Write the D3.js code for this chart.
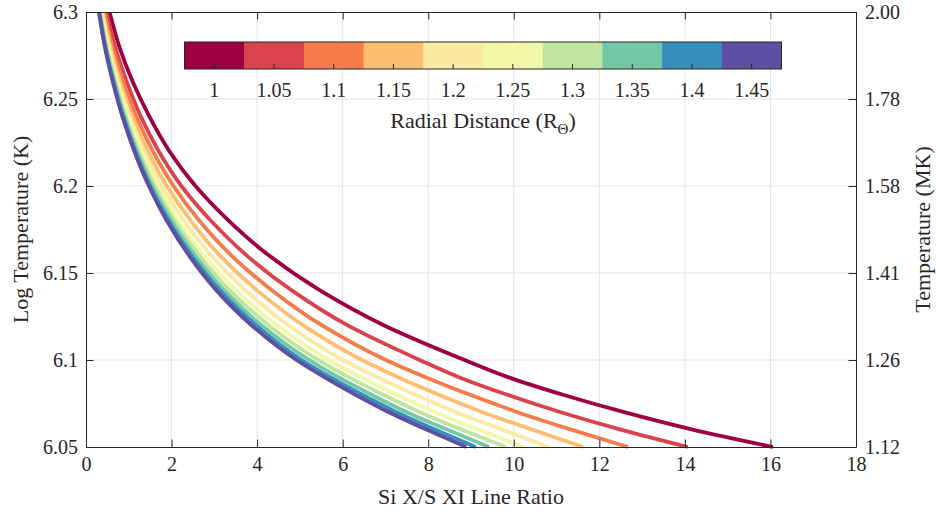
<!DOCTYPE html>
<html>
<head>
<meta charset="utf-8">
<script src="https://d3js.org/d3.v7.min.js"></script>
<style>
  body { margin: 0; background: #fff; }
  svg text { font-family: "Liberation Serif", "Times New Roman", serif; fill: #262626; }
</style>
</head>
<body>
<div id="chart"></div>
<script>
// log temperature levels that each curve is sampled at
var logT = [6.05, 6.06, 6.07, 6.08, 6.09, 6.10, 6.12, 6.14, 6.16, 6.18, 6.20, 6.22, 6.24, 6.26, 6.28, 6.30];

// Si X / S XI line ratio, one array per radial distance
var ratio100 = [16.06, 14.18, 12.58, 11.15, 9.88, 8.85, 6.96, 5.47, 4.28, 3.34, 2.56, 1.95, 1.48, 1.09, 0.78, 0.55];
var ratio105 = [14.07, 12.50, 11.10, 9.85, 8.73, 7.80, 6.11, 4.81, 3.76, 2.92, 2.23, 1.70, 1.28, 0.95, 0.68, 0.47];
var ratio110 = [12.67, 11.34, 10.09, 8.98, 7.95, 7.01, 5.51, 4.35, 3.40, 2.65, 2.045, 1.563, 1.176, 0.87, 0.618, 0.428];
var ratio115 = [11.62, 10.43, 9.27, 8.25, 7.31, 6.45, 5.07, 4.00, 3.13, 2.45, 1.89, 1.445, 1.087, 0.80, 0.57, 0.393];
var ratio120 = [10.82, 9.73, 8.65, 7.70, 6.82, 6.01, 4.73, 3.73, 2.93, 2.29, 1.77, 1.356, 1.02, 0.75, 0.533, 0.367];
var ratio125 = [10.24, 9.17, 8.16, 7.26, 6.43, 5.67, 4.46, 3.51, 2.76, 2.16, 1.68, 1.285, 0.966, 0.713, 0.503, 0.346];
var ratio130 = [9.81, 8.78, 7.81, 6.95, 6.15, 5.43, 4.27, 3.36, 2.65, 2.075, 1.61, 1.235, 0.93, 0.684, 0.483, 0.331];
var ratio135 = [9.42, 8.44, 7.50, 6.68, 5.91, 5.22, 4.10, 3.23, 2.55, 2.00, 1.55, 1.19, 0.896, 0.66, 0.465, 0.318];
var ratio140 = [9.11, 8.16, 7.26, 6.46, 5.72, 5.04, 3.97, 3.13, 2.47, 1.935, 1.50, 1.155, 0.87, 0.64, 0.45, 0.31];
var ratio145 = [8.89, 7.96, 7.08, 6.30, 5.58, 4.92, 3.87, 3.05, 2.41, 1.89, 1.47, 1.13, 0.85, 0.625, 0.44, 0.30];

var radii = [1, 1.05, 1.1, 1.15, 1.2, 1.25, 1.3, 1.35, 1.4, 1.45];
var radiusLabels = ["1", "1.05", "1.1", "1.15", "1.2", "1.25", "1.3", "1.35", "1.4", "1.45"];
var colors = ["#9e0142", "#d8434e", "#f67b4a", "#fdbf6f", "#fbeaa1", "#f1f9a9",
              "#bfe5a0", "#75c8a5", "#388eba", "#5e4fa2"];

var xTicks = [0, 2, 4, 6, 8, 10, 12, 14, 16, 18];
var yTicks = [6.05, 6.1, 6.15, 6.2, 6.25, 6.3];
var yTickLabels = ["6.05", "6.1", "6.15", "6.2", "6.25", "6.3"];
var tempLabels = ["1.12", "1.26", "1.41", "1.58", "1.78", "2.00"];

var series = [ratio100, ratio105, ratio110, ratio115, ratio120, ratio125, ratio130, ratio135, ratio140, ratio145];

var W = 936, H = 514;
var margin = {top: 12, right: 80, bottom: 67, left: 86},
    width = W - margin.left - margin.right,
    height = H - margin.top - margin.bottom;

var svg = d3.select("#chart").append("svg")
    .attr("width", W)
    .attr("height", H);

var g = svg.append("g")
    .attr("transform", "translate(" + margin.left + "," + margin.top + ")");

var x = d3.scaleLinear().domain([0, 18]).range([0, width]);
var y = d3.scaleLinear().domain([6.05, 6.3]).range([height, 0]);

// grid
g.append("g").selectAll("line")
    .data(xTicks.slice(1, -1))
    .enter().append("line")
    .attr("x1", function(d) { return x(d); })
    .attr("x2", function(d) { return x(d); })
    .attr("y1", 0).attr("y2", height)
    .attr("stroke", "#e3e3e3").attr("stroke-width", 1);

g.append("g").selectAll("line")
    .data(yTicks.slice(1, -1))
    .enter().append("line")
    .attr("y1", function(d) { return y(d); })
    .attr("y2", function(d) { return y(d); })
    .attr("x1", 0).attr("x2", width)
    .attr("stroke", "#e3e3e3").attr("stroke-width", 1);

// curves
g.append("clipPath").attr("id", "clip")
  .append("rect").attr("x", 0).attr("y", 0).attr("width", width).attr("height", height + 6);

var line = d3.line()
    .x(function(d) { return x(d[0]); })
    .y(function(d) { return y(d[1]); })
    .curve(d3.curveMonotoneY);

g.append("g").attr("clip-path", "url(#clip)")
  .selectAll("path")
    .data(series)
    .enter().append("path")
    .attr("d", function(s) { return line(s.map(function(v, i) { return [v, logT[i]]; })); })
    .attr("fill", "none")
    .attr("stroke", function(s, i) { return colors[i]; })
    .attr("stroke-width", 3.8);

// axes, inward ticks like matlab
var tl = 7.5;
var bottomAxis = d3.axisBottom(x).tickValues(xTicks).tickSizeInner(-tl).tickSizeOuter(0).tickPadding(0);
var topAxis = d3.axisTop(x).tickValues(xTicks).tickSizeInner(-tl).tickSizeOuter(0).tickFormat("");
var leftAxis = d3.axisLeft(y).tickValues(yTicks).tickSizeInner(-tl).tickSizeOuter(0)
    .tickFormat(function(d, i) { return yTickLabels[i]; });
var rightAxis = d3.axisRight(y).tickValues(yTicks).tickSizeInner(-tl).tickSizeOuter(0)
    .tickFormat(function(d, i) { return tempLabels[i]; });

var gx = g.append("g").attr("transform", "translate(0," + height + ")").call(bottomAxis);
gx.selectAll("text").attr("y", 24).attr("dy", 0);
g.append("g").call(topAxis);
var gy = g.append("g").call(leftAxis);
gy.selectAll("text").attr("x", -8);
var gr = g.append("g").attr("transform", "translate(" + width + ",0)").call(rightAxis);
gr.selectAll("text").attr("x", 9);

g.selectAll(".domain").attr("stroke", "#262626").attr("stroke-width", 1);
g.selectAll(".tick line").attr("stroke", "#262626");
g.selectAll(".tick text").attr("font-size", 20).style("font-family", "Liberation Serif, serif").attr("fill", "#262626");

// axis labels
g.append("text")
    .attr("x", width / 2).attr("y", height + 57)
    .attr("text-anchor", "middle").attr("font-size", 22)
    .text("Si X/S XI Line Ratio");

svg.append("text")
    .attr("transform", "translate(28," + (margin.top + height / 2) + ") rotate(-90)")
    .attr("text-anchor", "middle").attr("font-size", 22)
    .text("Log Temperature (K)");

svg.append("text")
    .attr("transform", "translate(930," + (margin.top + height / 2) + ") rotate(-90)")
    .attr("text-anchor", "middle").attr("font-size", 22)
    .text("Temperature (MK)");

// colorbar
var cb = {x0: 184.5, x1: 781.5, top: 42, h: 27};
var cx = d3.scaleBand().domain(radii).range([cb.x0 - margin.left, cb.x1 - margin.left]);
var cbar = g.append("g").attr("transform", "translate(0," + (cb.top - margin.top) + ")");

cbar.selectAll("rect.seg")
    .data(radii)
    .enter().append("rect")
    .attr("class", "seg")
    .attr("x", function(d) { return cx(d); })
    .attr("width", cx.bandwidth() + 0.5)
    .attr("y", 0).attr("height", cb.h)
    .attr("fill", function(d, i) { return colors[i]; });

cbar.selectAll("line.ct")
    .data(radii)
    .enter().append("line")
    .attr("class", "ct")
    .attr("x1", function(d) { return cx(d) + cx.bandwidth() / 2; })
    .attr("x2", function(d) { return cx(d) + cx.bandwidth() / 2; })
    .attr("y1", cb.h).attr("y2", cb.h - 5)
    .attr("stroke", "#262626");

cbar.append("rect")
    .attr("x", cx.range()[0]).attr("width", cx.range()[1] - cx.range()[0])
    .attr("y", 0).attr("height", cb.h)
    .attr("fill", "none").attr("stroke", "#262626").attr("stroke-width", 1);

cbar.selectAll("text.cl")
    .data(radii)
    .enter().append("text")
    .attr("class", "cl")
    .attr("x", function(d) { return cx(d) + cx.bandwidth() / 2; })
    .attr("y", cb.h + 28)
    .attr("text-anchor", "middle").attr("font-size", 20)
    .text(function(d, i) { return radiusLabels[i]; });

var cbl = cbar.append("text")
    .attr("x", (cx.range()[0] + cx.range()[1]) / 2)
    .attr("y", cb.h + 59)
    .attr("text-anchor", "middle").attr("font-size", 22);
cbl.append("tspan").text("Radial Distance (R");
cbl.append("tspan").attr("font-size", 15).attr("dy", 6).text("Θ");
cbl.append("tspan").attr("dy", -6).text(")");
</script>
</body>
</html>
